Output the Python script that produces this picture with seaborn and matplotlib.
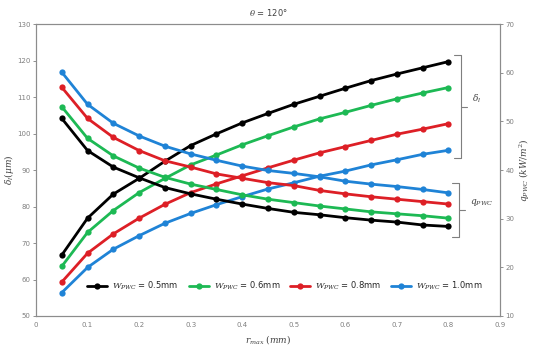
import numpy as np
import matplotlib
matplotlib.use('Agg')
import matplotlib.pyplot as plt
import pandas as pd
import seaborn as sns

r_max = [0.05, 0.1, 0.15, 0.2, 0.25, 0.3, 0.35, 0.4, 0.45, 0.5, 0.55, 0.6, 0.65, 0.7, 0.75, 0.8]
widths = ['0.5mm', '0.6mm', '0.8mm', '1.0mm']
colors = ['#000000', '#1DB954', '#DD1F26', '#1F83D6']

# delta_l (left axis, um)
delta_05 = [66.7, 76.8, 83.4, 87.7, 92.4, 96.7, 99.9, 102.9, 105.5, 108.0, 110.2, 112.4, 114.5, 116.3, 118.0, 119.7]
delta_06 = [63.6, 72.9, 78.9, 83.8, 87.7, 91.4, 94.1, 96.9, 99.4, 101.8, 104.0, 105.8, 107.7, 109.5, 111.1, 112.6]
delta_08 = [59.3, 67.2, 72.5, 76.8, 80.6, 83.8, 86.2, 88.4, 90.6, 92.7, 94.7, 96.4, 98.1, 99.8, 101.2, 102.7]
delta_10 = [56.4, 63.3, 68.3, 72.0, 75.4, 78.1, 80.5, 82.7, 84.8, 86.5, 88.3, 89.7, 91.4, 92.8, 94.3, 95.4]

# q_PWC (right axis, kW/m2)
q_05 = [50.6, 44.0, 40.6, 38.4, 36.4, 35.1, 34.0, 33.0, 32.1, 31.3, 30.8, 30.2, 29.7, 29.3, 28.7, 28.4]
q_06 = [53.0, 46.5, 42.9, 40.4, 38.5, 37.1, 36.0, 34.9, 34.0, 33.3, 32.6, 32.0, 31.4, 31.0, 30.6, 30.1]
q_08 = [57.0, 50.6, 46.7, 44.0, 41.9, 40.6, 39.2, 38.3, 37.4, 36.8, 35.8, 35.1, 34.5, 34.0, 33.5, 33.0]
q_10 = [60.1, 53.5, 49.6, 47.0, 44.9, 43.3, 42.0, 40.8, 39.9, 39.3, 38.6, 37.7, 37.1, 36.6, 36.0, 35.3]

delta_all = [delta_05, delta_06, delta_08, delta_10]
q_all = [q_05, q_06, q_08, q_10]

sns.set_style('white')
plt.rcParams['font.family'] = ['DejaVu Sans']
plt.rcParams['mathtext.fontset'] = 'dejavuserif'

fig = plt.figure(figsize=(5.34, 3.53), dpi=100)
ax = fig.add_axes([36/534, 1-316/353, 464/534, 292/353])
ax2 = ax.twinx()

handles = []
for w, c, d, q in zip(widths, colors, delta_all, q_all):
    sns.lineplot(x=r_max, y=d, ax=ax, color=c, marker='o', markersize=4.5,
                 markeredgewidth=0, linewidth=2, legend=False)
    sns.lineplot(x=r_max, y=q, ax=ax2, color=c, marker='o', markersize=4.5,
                 markeredgewidth=0, linewidth=2, legend=False)
    handles.append(ax.lines[-1])

ax.set_xlim(0, 0.9)
ax.set_ylim(50, 130)
ax2.set_ylim(10, 70)
ax.set_xticks(np.arange(0, 0.91, 0.1))
ax.set_xticklabels(['0'] + ['%.1f' % v for v in np.arange(0.1, 0.91, 0.1)])
ax.set_yticks(np.arange(50, 131, 10))
ax2.set_yticks(np.arange(10, 71, 10))

for a in (ax, ax2):
    a.tick_params(labelsize=5, colors='#7f7f7f', length=2, width=0.6, pad=2)
    for s in a.spines.values():
        s.set_color('#8c8c8c')
        s.set_linewidth(0.8)

ax.set_xlabel(r'$r_{max}$ $(mm)$', fontsize=6.5, color='#404040', labelpad=4)
ax.set_ylabel(r'$\delta_l(\mu m)$', fontsize=6.5, color='#404040', labelpad=1)
ax2.set_ylabel(r'$q_{PWC}$ $(kW/m^2)$', fontsize=6.5, color='#404040', labelpad=2)
ax.set_title(r'$\theta$ = 120°', fontsize=6, color='#404040', pad=6)

ax.legend(handles, [r'$W_{PWC}$ = ' + w for w in widths], loc='lower center',
          bbox_to_anchor=(0.537, 0.055), ncol=4, frameon=False, fontsize=6,
          handlelength=2.4, columnspacing=1.2, handletextpad=0.6)

# brackets marking the two groups of curves (pixel positions inside the axes)
def bracket(x, y0, y1, label):
    tr = ax.transAxes
    xa = (x - 36) / 464
    ya0 = (316 - y0) / 292
    ya1 = (316 - y1) / 292
    ym = (ya0 + ya1) / 2
    ax.plot([xa - 7/464, xa, xa, xa - 7/464], [ya0, ya0, ya1, ya1], color='#7f7f7f',
            lw=0.8, clip_on=False, transform=tr)
    ax.plot([xa, xa + 6/464], [ym, ym], color='#7f7f7f', lw=0.8, clip_on=False, transform=tr)
    ax.text(xa + 11/464, ym + 0.025, label, transform=tr, fontsize=6.5, color='#404040',
            va='center', ha='left')

bracket(461, 55, 158, r'$\delta_l$')
bracket(459, 183, 237, r'$q_{PWC}$')

fig.savefig('out.png', dpi=100)
